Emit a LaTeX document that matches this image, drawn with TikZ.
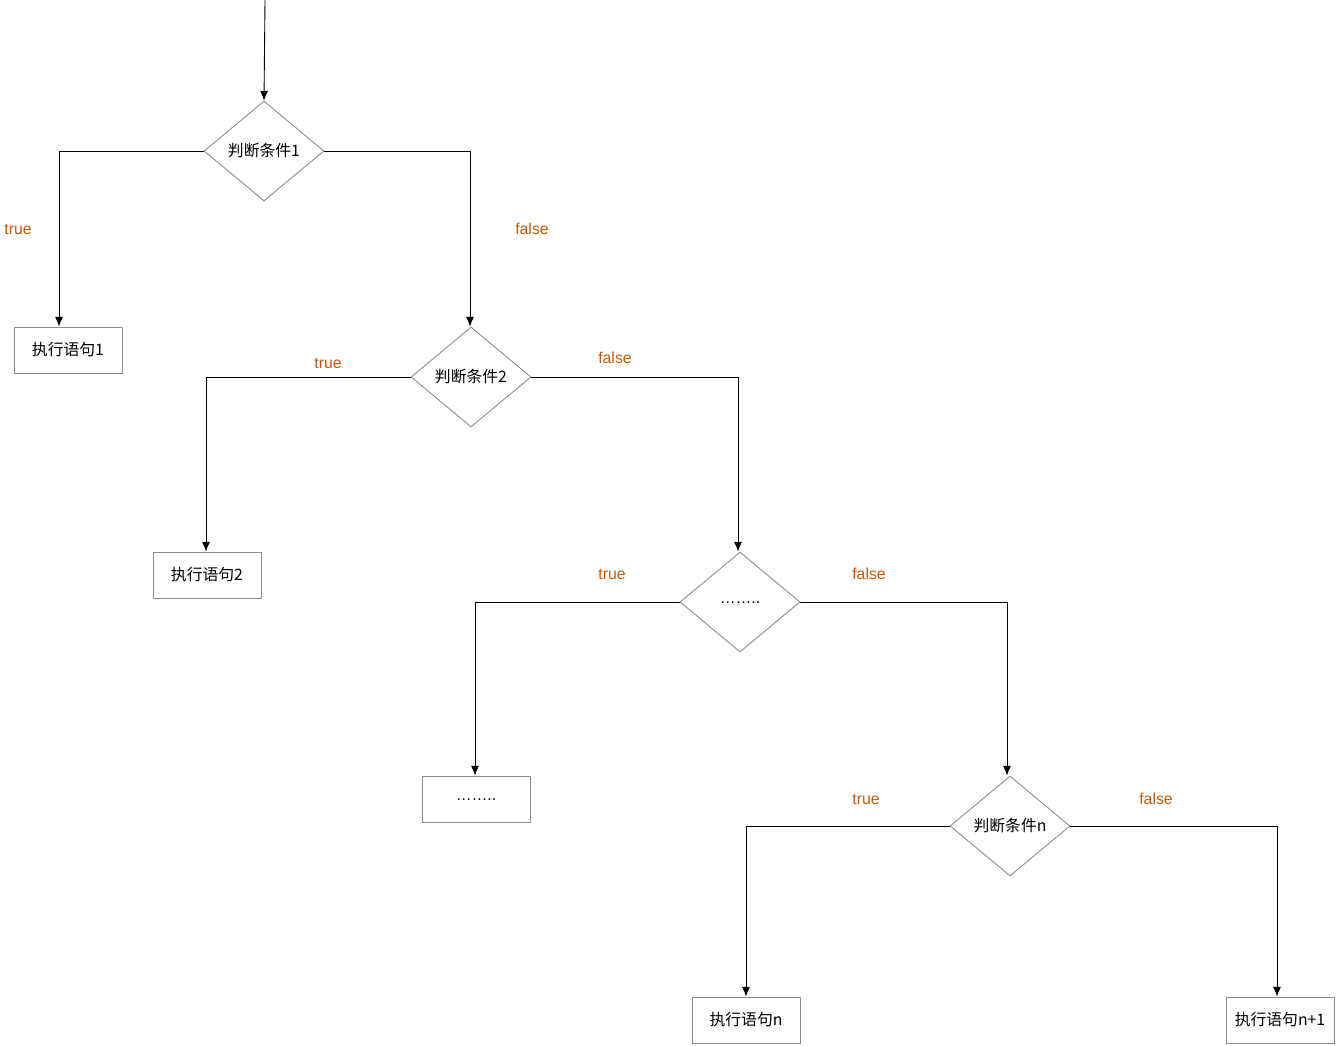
\documentclass[tikz,border=0pt]{standalone}
\usepackage{fontspec}
\setmainfont{Liberation Sans}
\newfontfamily\cjk{Noto Sans CJK SC}
\usepackage{tikz}
\usetikzlibrary{positioning,arrows.meta,calc,shapes.geometric}
\definecolor{edgegray}{HTML}{8C8C8C}
\definecolor{labelorange}{HTML}{C25A0C}

\begin{document}
\begin{tikzpicture}[x=0.02cm, y=-0.02cm,
    cond/.style={diamond, draw=edgegray, line width=0.5pt, inner sep=0pt,
      minimum width=2.4cm, minimum height=2cm, font=\cjk\fontsize{9}{10}\selectfont},
    stmt/.style={rectangle, draw=edgegray, line width=0.5pt,
      minimum width=2.16cm, minimum height=0.92cm, font=\cjk\fontsize{9}{10}\selectfont},
    flow/.style={-{Latex[length=5.5pt,width=4.5pt]}, line width=0.5pt},
    tag/.style={text=labelorange, font=\fontsize{9}{10}\selectfont}]
      \useasboundingbox (0,0) rectangle (1337,1045);

      % Conditions
      \node[cond] (d1) at (264,151) {判断条件1};
      \node[cond] (d2) at (471,377) {判断条件2};
      \node[cond] (d3) at (740,602) {{\fontspec{Liberation Sans}\raisebox{-2pt}{……..}}};
      \node[cond] (dn) at (1010,826) {判断条件n};

      % Statements
      \node[stmt] (b1) at (68,350) {执行语句1};
      \node[stmt] (b2) at (207,575) {执行语句2};
      \node[stmt] (b3) at (476,799) {{\fontspec{Liberation Sans}\raisebox{-2pt}{……..}}};
      \node[stmt] (bn) at (746,1020) {执行语句n};
      \node[stmt] (bn1) at (1280,1020) {执行语句n+1};

      % Entry
      \coordinate (start) at (265,0);
      \draw[flow] (start) -- (d1.north);

      % Branches
      \draw[flow] (d1.west) -| ([xshift=-0.18cm]b1.north);
      \draw[flow] (d1.east) -| ([xshift=-0.02cm]d2.north);
      \draw[flow] (d2.west) -| ([xshift=-0.02cm]b2.north);
      \draw[flow] (d2.east) -| ([xshift=-0.04cm]d3.north);
      \draw[flow] (d3.west) -| ([xshift=-0.02cm]b3.north);
      \draw[flow] (d3.east) -| ([xshift=-0.06cm]dn.north);
      \draw[flow] (dn.west) -| (bn.north);
      \draw[flow] (dn.east) -| ([xshift=-0.06cm]bn1.north);

      % Labels
      \node[tag] (t1) at (18,229) {true};
      \node[tag] (f1) at (532,229) {false};
      \node[tag] (t2) at (328,363) {true};
      \node[tag] (f2) at (615,358) {false};
      \node[tag] (t3) at (612,574) {true};
      \node[tag] (f3) at (869,574) {false};
      \node[tag] (tn) at (866,799) {true};
      \node[tag] (fn) at (1156,799) {false};
    \end{tikzpicture}
\end{document}
